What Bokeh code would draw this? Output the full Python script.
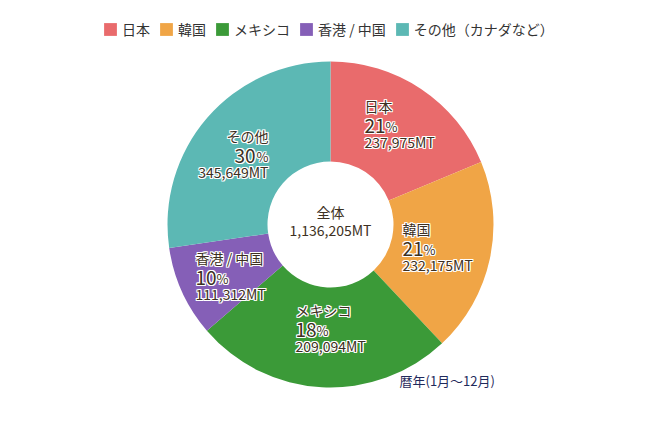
import math
from bokeh.plotting import figure
from bokeh.models import Range1d, ColumnDataSource, Legend, LegendItem
from bokeh.embed import file_html
from bokeh.resources import INLINE
from bokeh.core.properties import value

# ---- data ----
countries = ["日本", "韓国", "メキシコ", "香港 / 中国", "その他"]
legend_labels = ["日本", "韓国", "メキシコ", "香港 / 中国", "その他（カナダなど）"]
volumes_mt = [237975, 232175, 209094, 111312, 345649]
percent_labels = ["21", "21", "18", "10", "30"]
# slice sizes as drawn in the picture (percent of the ring)
slice_shares = [18.75, 19.25, 25.7, 9.0, 27.3]
total_label = "全体"
total_mt = 1136205
note = "暦年(1月～12月)"

# ---- styles / layout ----
colors = ["#e96b6c", "#f0a546", "#3b9a38", "#855fb7", "#5cb8b4"]
text_color = "#3d3022"
FONT = "Noto Sans CJK JP"
R_OUT, R_IN = 163, 63
SHIFT = 6  # baseline correction for the font
# label anchor (dx, dy of first-line baseline, alignment) relative to pie centre
label_layout = [(34, 113 + SHIFT, "left"), (72, -10 + SHIFT, "left"), (-35, -91 + SHIFT, "left"),
                (-135, -39 + SHIFT, "left"), (-62, 83 + SHIFT, "right")]

W, H = 650, 440
CX, CY = 330, 224  # pie centre in canvas px
p = figure(width=W, height=H, output_backend="svg", toolbar_location=None,
           x_range=Range1d(-CX, W - CX), y_range=Range1d(-(H - CY), CY),
           min_border=0, outline_line_color=None)
p.axis.visible = False
p.grid.visible = False
p.background_fill_color = "white"

total = sum(slice_shares)
starts, ends = [], []
cum = 0.0
for v in slice_shares:
    starts.append(math.pi / 2 - 2 * math.pi * cum / total)
    cum += v
    ends.append(math.pi / 2 - 2 * math.pi * cum / total)

src = ColumnDataSource(dict(start=starts, end=ends, color=colors, name=countries, vol=volumes_mt))
p.annular_wedge(x=0, y=0, inner_radius=R_IN, outer_radius=R_OUT, start_angle="start",
                end_angle="end", direction="clock", fill_color="color", line_color=None,
                source=src)

# labels
t_x, t_y, t_txt, t_align = [], [], [], []
n_x, n_y, n_txt, n_align = [], [], [], []
pc_x, pc_y, pc_align = [], [], []
m_x, m_y, m_txt, m_align = [], [], [], []
DIGIT_W = 0.553 * 19
PCT_W = 13
for name, vol, pct, (dx, dy, al) in zip(countries, volumes_mt, percent_labels, label_layout):
    t_x.append(dx); t_y.append(dy); t_txt.append(name); t_align.append(al)
    m_x.append(dx); m_y.append(dy - 36); m_txt.append(f"{vol:,}MT"); m_align.append(al)
    if al == "left":
        split = dx + DIGIT_W * len(pct)
        n_x.append(split); n_align.append("right")
        pc_x.append(split); pc_align.append("left")
    else:
        split = dx - PCT_W
        n_x.append(split); n_align.append("right")
        pc_x.append(dx); pc_align.append("right")
    n_y.append(dy - 20.5); n_txt.append(pct)
    pc_y.append(dy - 20.5)

groups = [
    (t_x, t_y, t_txt, t_align, "14px"),
    (n_x, n_y, n_txt, n_align, "19px"),
    (pc_x, pc_y, ["%"] * len(pc_x), pc_align, "13px"),
    (m_x, m_y, m_txt, m_align, "14px"),
]
# white halo behind slice labels
halo_offsets = [(-1, -1), (0, -1), (1, -1), (-1, 0), (1, 0), (-1, 1), (0, 1), (1, 1)]
for gx, gy, gt, ga, fs in groups:
    for ox, oy in halo_offsets:
        p.text(x=gx, y=gy, text=gt, text_align=ga, text_font_size=fs, x_offset=ox, y_offset=oy,
               text_font=value(FONT), text_color="white", text_baseline="alphabetic")
common = dict(text_font=value(FONT), text_color=text_color, text_baseline="alphabetic")
for gx, gy, gt, ga, fs in groups:
    p.text(x=gx, y=gy, text=gt, text_align=ga, text_font_size=fs, **common)

# centre
p.text(x=[0], y=[7 + SHIFT], text=[total_label], text_align="center", text_font_size="14px", **common)
p.text(x=[0], y=[-11 + SHIFT], text=[f"{total_mt:,}MT"], text_align="center", text_font_size="14px", **common)

# note
p.text(x=[69], y=[-162 + SHIFT], text=[note], text_align="left", text_font_size="13px",
       text_font=value(FONT), text_color="#1f2a5c", text_baseline="alphabetic")

# legend
items = []
for lab, c in zip(legend_labels, colors):
    r = p.rect(x=[-9999], y=[-9999], width=1, height=1, fill_color=c, line_color=None)
    items.append(LegendItem(label=lab, renderers=[r]))
legend = Legend(items=items, orientation="horizontal", location=(102, 401),
                glyph_width=16, glyph_height=16, label_standoff=4, spacing=8,
                padding=0, margin=0, border_line_color=None, background_fill_alpha=0,
                label_text_font=FONT, label_text_font_size="14px",
                label_text_color="#333333", label_height=16)
p.add_layout(legend)

open("out.html", "w").write(file_html(p, INLINE))
